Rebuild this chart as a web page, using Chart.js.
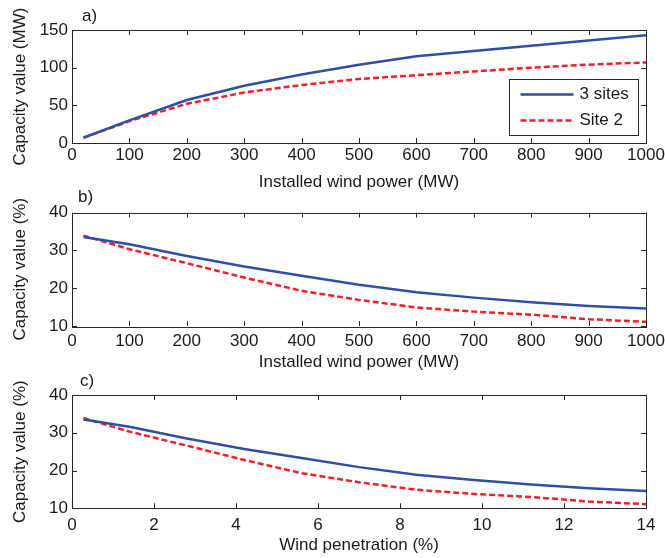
<!DOCTYPE html>
<html lang="en">
<head>
  <meta charset="UTF-8">
  <title>Capacity value of wind power</title>
  <style>
    body {
      margin: 0;
      background: #fff;
    }

    .figure {
      position: relative;
      width: 665px;
      height: 558px;
    }

    .figure canvas {
      position: absolute;
      left: 0;
    }
  </style>
</head>
<body>
  <div class="figure">
    <canvas id="panelA" width="665" height="195" style="top:0"></canvas>
    <canvas id="panelB" width="665" height="187" style="top:188px"></canvas>
    <canvas id="panelC" width="665" height="190" style="top:368px"></canvas>
  </div>

  <script src="https://cdn.jsdelivr.net/npm/chart.js"></script>
  <script>
    // installed wind power (MW) and the matching wind penetration (%)
    const installedMW = [20, 100, 200, 300, 400, 500, 600, 700, 800, 900, 1000];
    const penetration = [0.28, 1.4, 2.8, 4.2, 5.6, 7, 8.4, 9.8, 11.2, 12.6, 14];

    // capacity value in MW
    const threeSitesMW = [7, 30, 57, 76, 91, 104, 115, 122, 129, 136, 143];
    const site2MW = [7, 29, 52, 67, 77, 85, 90, 95, 100, 104, 107];

    // capacity value in % of installed power
    const threeSitesPct = [33.5, 31.6, 28.5, 25.7, 23.3, 20.9, 18.9, 17.5, 16.3, 15.3, 14.6];
    const site2Pct = [33.9, 30.3, 26.6, 22.8, 19.3, 16.9, 14.9, 13.8, 13.0, 11.8, 11.1];

    const seriesNames = ['3 sites', 'Site 2'];

    const BLUE = '#2f4fa2';
    const RED = '#f01f2a';
    const INK = '#1a1a1a';
    const FONT = { family: '"Liberation Sans", Arial, sans-serif', size: 17 };
    const FONT_CSS = '17px "Liberation Sans", Arial, sans-serif';

    function toXY(xs, ys) {
      return xs.map((x, i) => ({ x: x, y: ys[i] }));
    }

    // box around the plot with inward ticks on all four sides
    const framePlugin = {
      id: 'frame',
      afterDatasetsDraw(chart) {
        const { ctx, chartArea: a, scales } = chart;
        const len = 5;
        ctx.save();
        ctx.strokeStyle = '#262626';
        ctx.lineWidth = 1;
        ctx.beginPath();
        scales.x.ticks.forEach(t => {
          const px = Math.round(scales.x.getPixelForValue(t.value)) + 0.5;
          ctx.moveTo(px, a.bottom); ctx.lineTo(px, a.bottom - len);
          ctx.moveTo(px, a.top); ctx.lineTo(px, a.top + len);
        });
        scales.y.ticks.forEach(t => {
          const py = Math.round(scales.y.getPixelForValue(t.value)) + 0.5;
          ctx.moveTo(a.left, py); ctx.lineTo(a.left + len, py);
          ctx.moveTo(a.right, py); ctx.lineTo(a.right - len, py);
        });
        ctx.stroke();
        ctx.strokeRect(Math.round(a.left) + 0.5, Math.round(a.top) + 0.5,
          Math.round(a.right - a.left), Math.round(a.bottom - a.top));
        ctx.restore();
      }
    };

    // small "a)", "b)", "c)" label above each plot
    const panelLabelPlugin = {
      id: 'panelLabel',
      afterDraw(chart, args, opts) {
        const { ctx } = chart;
        ctx.save();
        ctx.font = FONT_CSS;
        ctx.fillStyle = INK;
        ctx.textBaseline = 'middle';
        ctx.fillText(opts.text, opts.x, opts.y);
        ctx.restore();
      }
    };

    // legend box inside the top panel
    const boxLegendPlugin = {
      id: 'boxLegend',
      afterDatasetsDraw(chart, args, opts) {
        if (!opts.show) return;
        const { ctx } = chart;
        const x = 509.5, y = 79.5, w = 129, h = 56;
        ctx.save();
        ctx.fillStyle = '#fff';
        ctx.fillRect(x, y, w, h);
        ctx.strokeStyle = '#262626';
        ctx.lineWidth = 1;
        ctx.strokeRect(x, y, w, h);
        ctx.font = FONT_CSS;
        ctx.textBaseline = 'middle';
        chart.data.datasets.forEach((ds, i) => {
          const ry = y + 15 + i * 26;
          ctx.strokeStyle = ds.borderColor;
          ctx.lineWidth = ds.borderWidth;
          ctx.setLineDash(ds.borderDash || []);
          ctx.beginPath();
          ctx.moveTo(x + 11, ry);
          ctx.lineTo(x + 64, ry);
          ctx.stroke();
          ctx.setLineDash([]);
          ctx.fillStyle = INK;
          ctx.fillText(ds.label, x + 70, ry);
        });
        ctx.restore();
      }
    };

    function makePanel(id, p) {
      return new Chart(document.getElementById(id), {
        type: 'line',
        data: {
          datasets: [
            {
              label: seriesNames[0],
              data: toXY(p.x, p.blue),
              borderColor: BLUE,
              borderWidth: 2.5,
              pointRadius: 0,
              tension: 0
            },
            {
              label: seriesNames[1],
              data: toXY(p.x, p.red),
              borderColor: RED,
              borderWidth: 2.5,
              borderDash: [6, 3],
              pointRadius: 0,
              tension: 0
            }
          ]
        },
        options: {
          animation: false,
          responsive: false,
          devicePixelRatio: 1,
          layout: { padding: { top: p.padTop, right: 19, left: 0, bottom: 0 } },
          plugins: {
            legend: { display: false },
            tooltip: { enabled: false },
            panelLabel: { text: p.label, x: p.labelX, y: p.labelY },
            boxLegend: { show: !!p.legend }
          },
          scales: {
            x: {
              type: 'linear',
              min: p.xMin,
              max: p.xMax,
              grid: { display: false, drawTicks: false },
              border: { display: false },
              ticks: {
                stepSize: p.xStep,
                font: FONT,
                color: INK,
                padding: p.xTickPad,
                maxRotation: 0,
                autoSkip: false,
                callback: v => String(v)
              },
              title: {
                display: true,
                text: p.xTitle,
                font: FONT,
                color: INK,
                padding: { top: 0, bottom: 2 }
              },
              afterFit(scale) {
                // fixed axis band; end labels may overhang the plot edges
                scale.height = p.axisH;
                scale.paddingLeft = 0;
                scale.paddingRight = 0;
              }
            },
            y: {
              min: p.yMin,
              max: p.yMax,
              grid: { display: false, drawTicks: false },
              border: { display: false },
              ticks: {
                stepSize: p.yStep,
                font: FONT,
                color: INK,
                padding: 4,
                callback: v => String(v)
              },
              title: {
                display: true,
                text: p.yTitle,
                font: FONT,
                color: INK,
                padding: { top: 10, bottom: 0 }
              },
              afterFit(scale) {
                scale.width = 72;
                scale.paddingTop = 0;
                scale.paddingBottom = 0;
              }
            }
          }
        },
        plugins: [framePlugin, panelLabelPlugin, boxLegendPlugin]
      });
    }

    makePanel('panelA', {
      x: installedMW, blue: threeSitesMW, red: site2MW,
      xMin: 0, xMax: 1000, xStep: 100,
      yMin: 0, yMax: 150, yStep: 50,
      xTitle: 'Installed wind power (MW)', yTitle: 'Capacity value (MW)',
      padTop: 30, axisH: 52, xTickPad: 2,
      label: 'a)', labelX: 82, labelY: 16,
      legend: true
    });

    makePanel('panelB', {
      x: installedMW, blue: threeSitesPct, red: site2Pct,
      xMin: 0, xMax: 1000, xStep: 100,
      yMin: 10, yMax: 40, yStep: 10,
      xTitle: 'Installed wind power (MW)', yTitle: 'Capacity value (%)',
      padTop: 24.5, axisH: 49, xTickPad: 5,
      label: 'b)', labelX: 78, labelY: 9.5
    });

    makePanel('panelC', {
      x: penetration, blue: threeSitesPct, red: site2Pct,
      xMin: 0, xMax: 14, xStep: 2,
      yMin: 10, yMax: 40, yStep: 10,
      xTitle: 'Wind penetration (%)', yTitle: 'Capacity value (%)',
      padTop: 27, axisH: 49.7, xTickPad: 7,
      label: 'c)', labelX: 80, labelY: 13
    });
  </script>
</body>
</html>
